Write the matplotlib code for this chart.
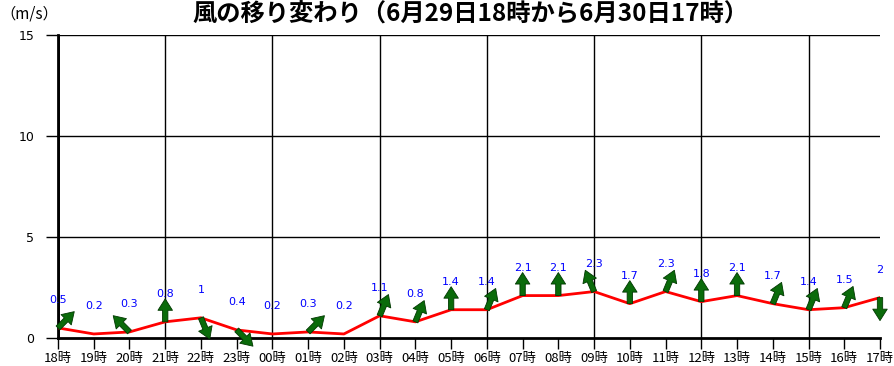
import matplotlib
matplotlib.use("Agg")
import matplotlib.pyplot as plt
from matplotlib.transforms import offset_copy
import numpy as np

plt.rcParams['font.family'] = ['Noto Sans CJK JP', 'DejaVu Sans']

hours = ['18時', '19時', '20時', '21時', '22時', '23時', '00時', '01時',
         '02時', '03時', '04時', '05時', '06時', '07時', '08時', '09時',
         '10時', '11時', '12時', '13時', '14時', '15時', '16時', '17時']
speed = [0.5, 0.2, 0.3, 0.8, 1, 0.4, 0.2, 0.3, 0.2, 1.1, 0.8, 1.4,
         1.4, 2.1, 2.1, 2.3, 1.7, 2.3, 1.8, 2.1, 1.7, 1.4, 1.5, 2]
# direction the arrow points, degrees clockwise from north (None = calm)
arrow_dir = [45, None, 315, 0, 157.5, 135, None, 45, None, 22.5, 22.5, 0,
             22.5, 0, 0, 337.5, 0, 22.5, 0, 0, 22.5, 22.5, 22.5, 180]

fig = plt.figure(figsize=(8.95, 3.66), dpi=100)
ax = fig.add_axes([58 / 895, 28 / 366, 822 / 895, 303 / 366])

x = np.arange(len(hours))
ax.set_xlim(0, len(hours) - 1)
ax.set_ylim(0, 15)

for yv in [5, 10, 15]:
    ax.axhline(yv, color='black', lw=1, zorder=1)
for xv in x[::3]:
    ax.axvline(xv, color='black', lw=2 if xv == 0 else 1, zorder=1)

ax.plot(x, speed, color='red', lw=2, zorder=3)

for i, (v, d) in enumerate(zip(speed, arrow_dir)):
    lbl = '%g' % v
    ax.annotate(lbl, xy=(i, v), xytext=(0, 20), textcoords='offset points',
                ha='center', va='center', color='blue', fontsize=8,
                family='DejaVu Sans', zorder=5)
    if d is None:
        continue
    L = 23
    dx = L * np.sin(np.radians(d))
    dy = L * np.cos(np.radians(d))
    tr = offset_copy(ax.transData, fig=fig, x=dx, y=dy, units='dots')
    ax.annotate('', xy=(i, v), xycoords=tr, xytext=(i, v), textcoords='data',
                arrowprops=dict(arrowstyle='simple,head_length=0.75,head_width=0.95,tail_width=0.35',
                                mutation_scale=11, shrinkA=0, shrinkB=0,
                                fc='#0a6b0a', ec='#003800', lw=0.6),
                zorder=4, annotation_clip=False)

for s in ['top', 'right']:
    ax.spines[s].set_visible(False)
ax.spines['left'].set_linewidth(2)
ax.spines['bottom'].set_linewidth(2)

ax.set_xticks(x)
ax.set_xticklabels(hours, fontsize=9.5)
ax.set_yticks([0, 5, 10, 15])
ax.set_yticklabels(['0', '5', '10', '15'], fontsize=9, family='DejaVu Sans')
ax.tick_params(axis='x', length=8, width=1, pad=2)
ax.tick_params(axis='y', length=9, width=1, pad=8)

fig.text(470 / 895, 1 - 14 / 366, '風の移り変わり（6月29日18時から6月30日17時）',
         ha='center', va='center', fontsize=17.5, fontweight='bold')
fig.text(0, 1 - 14 / 366, '（m/s）', ha='left', va='center', fontsize=11)

fig.savefig('out.png', dpi=100)
